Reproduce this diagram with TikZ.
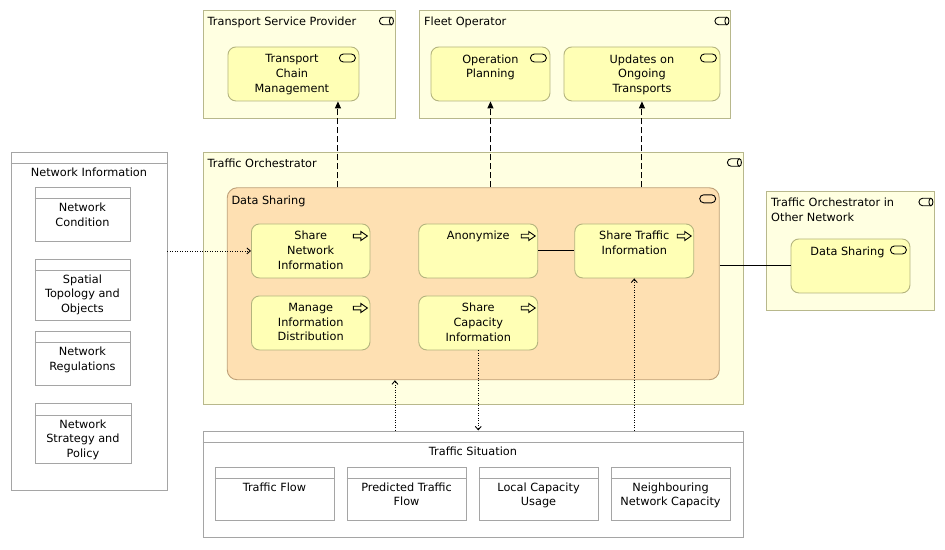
\documentclass[tikz,border=0pt]{standalone}
\usepackage{fontspec}
\setmainfont{DejaVu Sans}
\usepackage{xcolor}
\usetikzlibrary{arrows.meta, calc}

\definecolor{roleyel}{RGB}{255,255,225}
\definecolor{roleline}{RGB}{184,184,140}
\definecolor{svcyel}{RGB}{255,255,181}
\definecolor{svcline}{RGB}{180,180,126}
\definecolor{dsorange}{RGB}{254,224,178}
\definecolor{dsline}{RGB}{190,160,120}
\definecolor{objline}{RGB}{165,165,165}

\tikzset{
  rolebox/.style={draw=roleline, fill=roleyel, line width=0.9pt, anchor=north west, inner sep=0pt},
  svcbox/.style={draw=svcline, fill=svcyel, line width=0.9pt, rounded corners=8pt, anchor=north west, inner sep=0pt},
  dsbox/.style={svcbox, draw=dsline, fill=dsorange, rounded corners=10pt},
  objbox/.style={draw=objline, fill=white, line width=0.9pt, anchor=north west, inner sep=0pt},
  txt/.style={font=\fontsize{11.3}{14.7}\selectfont, inner sep=0pt, align=center, anchor=north},
  txtl/.style={txt, align=left, anchor=north west},
  flowline/.style={line width=1pt, dash pattern=on 6pt off 3pt, -{Triangle[length=7pt,width=6pt]}},
  accessline/.style={line width=0.9pt, dash pattern=on 1pt off 1.5pt, -{Straight Barb[length=3.5pt,width=6pt]}},
  assocline/.style={line width=1pt},
  roleicon/.pic={
    \draw[line width=0.9pt] (5,-3.75) -- (-3.25,-3.75) arc[start angle=270, end angle=90, radius=3.75] -- (5,3.75);
    \draw[line width=0.9pt] (5,0) ellipse[x radius=2, y radius=3.75];
  },
  svcicon/.pic={
    \draw[line width=0.9pt, rounded corners=4pt] (-8,-4) rectangle (8,4);
  },
  procicon/.pic={
    \draw[line width=0.9pt] (-7,-1.8) -- (0.5,-1.8) -- (0.5,-4.5) -- (7,0) -- (0.5,4.5) -- (0.5,1.8) -- (-7,1.8) -- cycle;
  }
}

\begin{document}
\begin{tikzpicture}[x=1pt,y=1pt,yscale=-1,xscale=1]
\useasboundingbox (0,0) rectangle (945,549);

%Shape: role containers
\node[rolebox, minimum width=192pt, minimum height=107.5pt] (tsp) at (202.5,10) {};
\node[rolebox, minimum width=311pt, minimum height=107.5pt] (fo) at (419,10) {};
\node[rolebox, minimum width=540pt, minimum height=252pt] (to) at (202.5,151.5) {};
\node[rolebox, minimum width=168pt, minimum height=119pt] (oto) at (766,190.5) {};

%Shape: services
\node[svcbox, minimum width=131pt, minimum height=54pt] (tcm) at (227.5,46.5) {};
\node[svcbox, minimum width=119pt, minimum height=54pt] (op) at (430.5,46.5) {};
\node[svcbox, minimum width=156pt, minimum height=54pt] (upd) at (563.5,46.5) {};
\node[dsbox, minimum width=492pt, minimum height=192pt] (ds) at (226.8,187.3) {};
\node[svcbox, minimum width=119pt, minimum height=54pt] (ods) at (790.5,238.5) {};

%Shape: processes
\node[svcbox, minimum width=118.5pt, minimum height=54pt] (sni) at (251,223.5) {};
\node[svcbox, minimum width=119pt, minimum height=54pt] (anon) at (418.3,223.5) {};
\node[svcbox, minimum width=119pt, minimum height=54pt] (sti) at (574.3,223.5) {};
\node[svcbox, minimum width=118.5pt, minimum height=54pt] (mid) at (251,295.5) {};
\node[svcbox, minimum width=119pt, minimum height=54pt] (sci) at (418.3,295.5) {};

%Shape: objects
\node[objbox, minimum width=156pt, minimum height=338.5pt] (ni) at (10.5,151.5) {};
\node[objbox, minimum width=95pt, minimum height=54pt] (nc) at (34.5,186.7) {};
\node[objbox, minimum width=95pt, minimum height=61pt] (stp) at (34.5,258.5) {};
\node[objbox, minimum width=95pt, minimum height=54pt] (nr) at (34.5,330.7) {};
\node[objbox, minimum width=96pt, minimum height=60pt] (nsp) at (34.5,403.3) {};
\node[objbox, minimum width=540pt, minimum height=106.5pt] (ts) at (202.5,430.5) {};
\node[objbox, minimum width=119pt, minimum height=53.5pt] (tf) at (214.5,466.5) {};
\node[objbox, minimum width=119pt, minimum height=53.5pt] (ptf) at (346.6,466.5) {};
\node[objbox, minimum width=119pt, minimum height=53.5pt] (lcu) at (478.6,466.5) {};
\node[objbox, minimum width=119pt, minimum height=53.5pt] (nnc) at (610.6,466.5) {};
\foreach \o in {ni,nc,stp,nr,nsp,ts,tf,ptf,lcu,nnc}
  \draw[objline, line width=0.9pt] ($(\o.north west)+(0,11.8)$) -- ($(\o.north east)+(0,11.8)$);

%Icons
\pic at ($(tsp.north east)+(-9,11)$) {roleicon};
\pic at ($(fo.north east)+(-9,11)$) {roleicon};
\pic at ($(to.north east)+(-9,11)$) {roleicon};
\pic at ($(oto.north east)+(-9,11.5)$) {roleicon};
\foreach \s in {tcm,op,upd,ds,ods}
  \pic at ($(\s.north east)+(-12,11.5)$) {svcicon};
\foreach \p in {sni,anon,sti,mid,sci}
  \pic at ($(\p.north east)+(-10,12.5)$) {procicon};

% Text Node
\node[txtl] (tsp-t) at ($(tsp.north west)+(5,7)$) {Transport Service Provider};
\node[txtl] (fo-t) at ($(fo.north west)+(5,7)$) {Fleet Operator};
\node[txtl] (to-t) at ($(to.north west)+(5,7)$) {Traffic Orchestrator};
\node[txtl] (oto-t) at ($(oto.north west)+(5,7.5)$) {Traffic Orchestrator in\\Other Network};
\node[txtl] (ds-t) at ($(ds.north west)+(4.5,8)$) {Data Sharing};
\node[txt] (tcm-t) at ($(tcm.north)+(-1.5,8)$) {Transport\\Chain\\Management};
\node[txt] (op-t) at ($(op.north)+(0,8)$) {Operation\\Planning};
\node[txt] (upd-t) at ($(upd.north)+(0,8)$) {Updates on\\Ongoing\\Transports};
\node[txt] (ods-t) at ($(ods.north)+(-3,8.5)$) {Data Sharing};
\node[txt] (sni-t) at ($(sni.north)+(0,7.5)$) {Share\\Network\\Information};
\node[txt] (anon-t) at ($(anon.north)+(0,7.5)$) {Anonymize};
\node[txt] (sti-t) at ($(sti.north)+(0,7.5)$) {Share Traffic\\Information};
\node[txt] (mid-t) at ($(mid.north)+(0,7.5)$) {Manage\\Information\\Distribution};
\node[txt] (sci-t) at ($(sci.north)+(0,7.5)$) {Share\\Capacity\\Information};
\node[txt] (ni-t) at ($(ni.north)+(0,16)$) {Network Information};
\node[txt] (nc-t) at ($(nc.north)+(0,16)$) {Network\\Condition};
\node[txt] (stp-t) at ($(stp.north)+(0,16)$) {Spatial\\Topology and\\Objects};
\node[txt] (nr-t) at ($(nr.north)+(0,16)$) {Network\\Regulations};
\node[txt] (nsp-t) at ($(nsp.north)+(0,16)$) {Network\\Strategy and\\Policy};
\node[txt] (ts-t) at ($(ts.north)+(0,16)$) {Traffic Situation};
\node[txt] (tf-t) at ($(tf.north)+(0,16)$) {Traffic Flow};
\node[txt] (ptf-t) at ($(ptf.north)+(0,16)$) {Predicted Traffic\\Flow};
\node[txt] (lcu-t) at ($(lcu.north)+(0,16)$) {Local Capacity\\Usage};
\node[txt] (nnc-t) at ($(nnc.north)+(0,16)$) {Neighbouring\\Network Capacity};

%Connectors
\coordinate (tcm-in) at ($(tcm.south)+(44.5,0)$);
\draw[flowline] (tcm-in |- ds.north) -- (tcm-in);
\draw[flowline] (op.south |- ds.north) -- (op.south);
\draw[flowline] (upd.south |- ds.north) -- (upd.south);
\draw[accessline] (ni.east |- sni.west) -- (sni.west);
\draw[assocline] (anon) -- (sti);
\draw[assocline] (ds.east |- ods.west) -- (ods.west);
\coordinate (ts-up) at ($(ts.north)+(-78,0)$);
\draw[accessline] (ts-up) -- (ts-up |- ds.south);
\draw[accessline] (sci.south) -- (sci.south |- ts.north);
\draw[accessline] (sti.south |- ts.north) -- (sti.south);

\end{tikzpicture}
\end{document}
